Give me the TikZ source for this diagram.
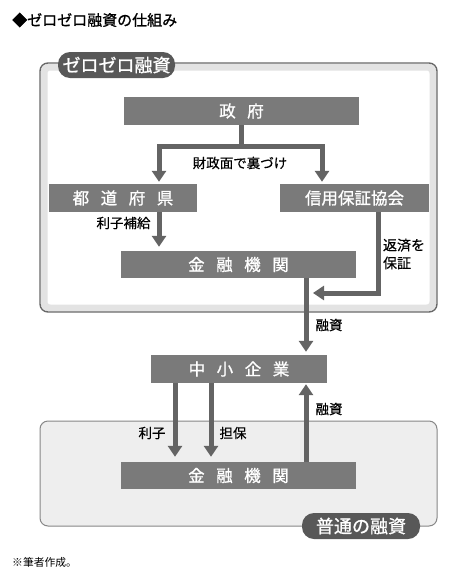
\documentclass[tikz,border=0pt]{standalone}
\usepackage{fontspec}
\setmainfont{Noto Sans CJK JP}
\newfontfamily\medfont{Noto Sans CJK JP}[FakeBold=1.0]
\newfontfamily\lightbold{Noto Sans CJK JP}[FakeBold=0.4]
\usetikzlibrary{arrows.meta,calc,positioning}
\definecolor{boxg}{RGB}{122,122,122}
\definecolor{arrg}{RGB}{100,100,100}
\definecolor{pillg}{RGB}{88,88,88}
\definecolor{frameg}{RGB}{105,105,105}
\definecolor{lowg}{RGB}{238,238,238}
\newcommand{\kgap}{\hspace{0.7em}}
\tikzset{
  blk/.style={rectangle,fill=boxg,draw=none,text=white,inner sep=0pt,
    minimum height=28pt,font=\medfont\fontsize{16.5}{18}\selectfont},
  pill/.style={rectangle,rounded corners=12pt,fill=pillg,draw=none,text=white,
    inner sep=0pt,minimum height=26pt,font=\medfont\fontsize{18}{20}\selectfont},
  lab/.style={font=\lightbold\fontsize{13.5}{17}\selectfont,text=black,inner sep=0pt},
  arr/.style={-{Triangle[length=11pt,width=14pt]},line width=5pt,draw=arrg},
  frame/.style={rectangle,rounded corners=8pt,draw=frameg,line width=1.4pt}
}
\begin{document}
\begin{tikzpicture}[x=1pt,y=-1pt]
\useasboundingbox[fill=white] (0,0) rectangle (450,579);
\node[anchor=west,inner sep=0pt,font=\medfont\fontsize{15}{17}\selectfont] (title) at (12,20) {◆ゼロゼロ融資の仕組み};
% ---------- frames ----------
\draw[gray!22,line width=7pt,rounded corners=6pt] (44,67) rectangle (433,308);
\node[frame,minimum width=397pt,minimum height=249pt] (zz) at (238.5,187.5) {};
\node[frame,fill=lowg,line width=1pt,draw=frameg!80,minimum width=397pt,minimum height=105pt] (plain) at (238.5,473.5) {};
\node[pill,minimum width=117pt] (zzlab) at (116.5,65) {ゼロゼロ融資};
\node[pill,minimum width=118pt] (plainlab) at (361,526) {普通の融資};
% ---------- boxes ----------
\node[blk,minimum width=235pt] (gov) at (241.5,111) {政\kgap 府};
\node[blk,minimum width=148pt] (pref) at (123,198) {都\kgap 道\kgap 府\kgap 県};
\node[blk,minimum width=149pt] (guar) at (354.5,198) {信用保証協会};
\node[blk,minimum width=235pt,minimum height=27pt] (fin1) at (238.5,264.5) {金\kgap 融\kgap 機\kgap 関};
\node[blk,minimum width=176pt] (sme) at (239,369) {中\kgap 小\kgap 企\kgap 業};
\node[blk,minimum width=235pt,minimum height=27pt] (fin2) at (238.5,475.5) {金\kgap 融\kgap 機\kgap 関};
% ---------- arrows ----------
\coordinate (split) at ($(gov.south)+(0,21)$);
\coordinate (join) at (313,293);
\draw[arr,shorten >=2pt] (gov.south) -- (split) -| ([xshift=36pt]pref.north);
\draw[arr,shorten >=2pt] (split) -| ([xshift=-32.5pt]guar.north);
\draw[arr,shorten >=4pt] ([xshift=36pt]pref.south) -- ([xshift=36pt]pref.south |- fin1.north);
\draw[arr] ([xshift=23.5pt]guar.south) |- (join);
\draw[arr,shorten >=3pt] ([xshift=67.5pt]fin1.south) -- ([xshift=67.5pt]fin1.south |- sme.north);
\draw[arr,shorten >=5pt] ([xshift=-64pt]sme.south) -- ([xshift=-64pt]sme.south |- fin2.north);
\draw[arr,shorten >=5pt] ([xshift=-28pt]sme.south) -- ([xshift=-28pt]sme.south |- fin2.north);
\draw[arr,shorten >=1pt] ([xshift=67.5pt]fin2.north) -- ([xshift=67.5pt]fin2.north |- sme.south);
% ---------- labels ----------
\node[lab] (back) at (240,163) {財政面で裏づけ};
\node[lab] (subsidy) at (123.5,223) {利子補給};
\node[lab,align=left,font=\lightbold\fontsize{14}{18}\selectfont] (repay) at (404,254) {返済を\\保証};
\node[lab] (loan1) at (329,325) {融資};
\node[lab] (interest) at (152,433) {利子};
\node[lab] (collat) at (233,433) {担保};
\node[lab] (loan2) at (329,409) {融資};
\node[anchor=west,inner sep=0pt,font=\fontsize{10.8}{12}\selectfont] (note) at (12,562) {※筆者作成。};
\end{tikzpicture}
\end{document}
